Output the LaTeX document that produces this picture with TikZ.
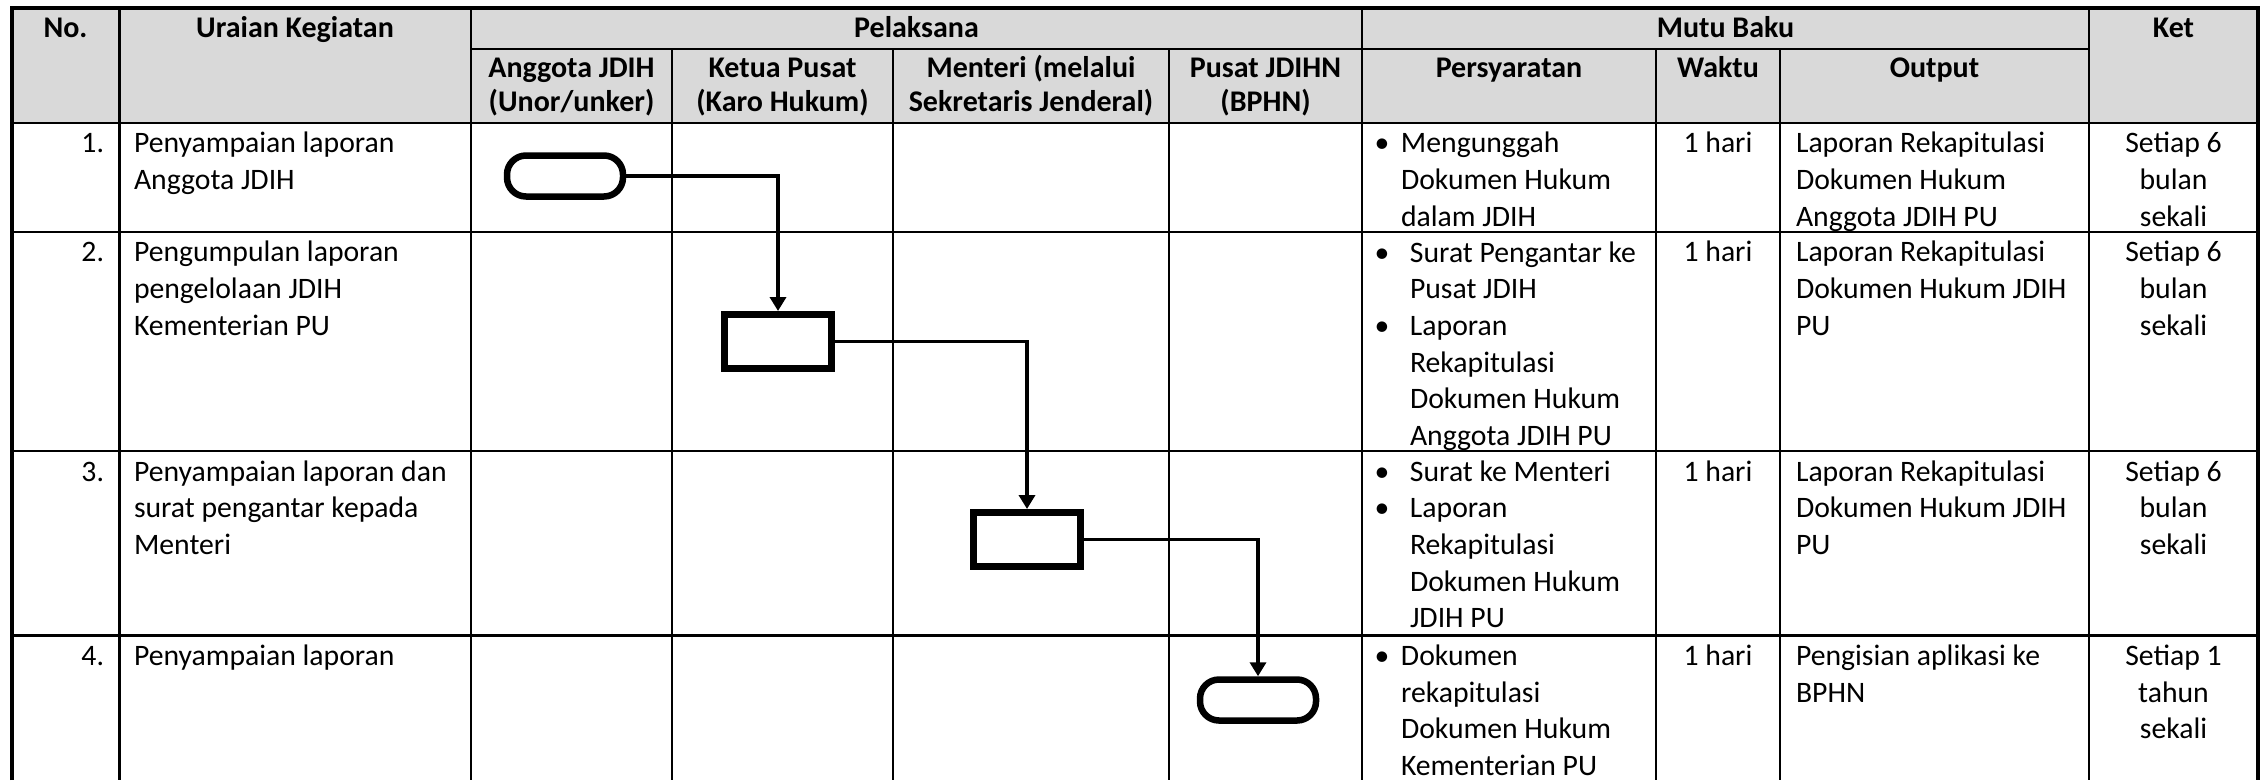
\documentclass[tikz,border=0pt]{standalone}
\usepackage{fontspec}
\setmainfont{Carlito}
\usetikzlibrary{arrows.meta}
\definecolor{hdrgray}{HTML}{D9D9D9}
\newcommand\bdyf{\fontsize{29.7}{36.7}\selectfont}
\newcommand\hdf{\fontsize{30}{34}\selectfont\bfseries}
\newcommand\bl[1]{\llap{\makebox[#1][c]{\textbullet}}}
\begin{document}
\begin{tikzpicture}[x=1pt,y=-1pt,
  outerline/.style={line width=3.2pt},
  innerline/.style={line width=2.4pt},
  hd/.style={inner sep=0pt,outer sep=0pt,font=\hdf,align=center,anchor=north},
  bt/.style={inner sep=0pt,outer sep=0pt,font=\bdyf,align=left,anchor=north west},
  btc/.style={inner sep=0pt,outer sep=0pt,font=\bdyf,align=center,anchor=north},
  btr/.style={inner sep=0pt,outer sep=0pt,font=\bdyf,align=right,anchor=north east},
  proc/.style={draw,line width=7pt,minimum width=107pt,minimum height=54pt,inner sep=0pt,fill=white},
  term/.style={draw,line width=6.5pt,rounded corners=19pt,minimum width=116pt,minimum height=41pt,inner sep=0pt,fill=white},
  conn/.style={line width=3.5pt,-{Triangle[length=14pt,width=16pt]}}
]
\useasboundingbox (0,0) rectangle (2266,780);
% header shading
\fill[hdrgray] (12,8) rectangle (2258,123);
% grid
\draw[innerline] (471,49) -- (2089,49);
\draw[innerline] (12,123) -- (2258,123);
\draw[innerline] (12,232) -- (2258,232);
\draw[innerline] (12,451) -- (2258,451);
\draw[innerline] (12,635.5) -- (2258,635.5);
\draw[innerline] (119.5,8) -- (119.5,780);
\draw[innerline] (471,8) -- (471,780);
\draw[innerline] (672,49) -- (672,780);
\draw[innerline] (893,49) -- (893,780);
\draw[innerline] (1169,49) -- (1169,780);
\draw[innerline] (1362,8) -- (1362,780);
\draw[innerline] (1656,49) -- (1656,780);
\draw[innerline] (1780,49) -- (1780,780);
\draw[innerline] (2089,8) -- (2089,780);
\draw[outerline] (12,780) -- (12,8) -- (2258,8) -- (2258,780);

% header texts
\node[hd] (hNo) at (65.5,13.4) {\strut No.};
\node[hd] (hUr) at (295,13.4) {\strut Uraian Kegiatan};
\node[hd] (hPel) at (916.5,13.4) {\strut Pelaksana};
\node[hd] (hMutu) at (1725.5,13.4) {\strut Mutu Baku};
\node[hd] (hKet) at (2173.5,13.4) {\strut Ket};
\node[hd] (hA) at (571.5,53.9) {\strut Anggota JDIH\\(Unor/unker)};
\node[hd] (hK) at (782.5,53.9) {\strut Ketua Pusat\\(Karo Hukum)};
\node[hd] (hM) at (1031,53.9) {\strut Menteri (melalui\\Sekretaris Jenderal)};
\node[hd] (hP) at (1265.5,53.9) {\strut Pusat JDIHN\\(BPHN)};
\node[hd] (hPer) at (1509,53.9) {\strut Persyaratan};
\node[hd] (hW) at (1718,53.9) {\strut Waktu};
\node[hd] (hO) at (1934.5,53.9) {\strut Output};

% row 1
\node[btr] (n1) at (104,127.3) {\strut 1.};
\node[bt] (u1) at (134,127.3) {\strut Penyampaian laporan\\Anggota JDIH};
\node[bt] (s1) at (1401,127.3) {\strut\bl{38pt}Mengunggah\\Dokumen Hukum\\dalam JDIH};
\node[btc] (w1) at (1718,127.3) {\strut 1 hari};
\node[bt] (o1) at (1796,127.3) {\strut Laporan Rekapitulasi\\Dokumen Hukum\\Anggota JDIH PU};
\node[btc] (k1) at (2173.5,127.3) {\strut Setiap 6\\bulan\\sekali};

% row 2
\node[btr] (n2) at (104,236.3) {\strut 2.};
\node[bt] (u2) at (134,236.3) {\strut Pengumpulan laporan\\pengelolaan JDIH\\Kementerian PU};
\node[bt] (s2) at (1410,236.3) {\strut\bl{56pt}Surat Pengantar ke\\Pusat JDIH\\\bl{56pt}Laporan\\Rekapitulasi\\Dokumen Hukum\\Anggota JDIH PU};
\node[btc] (w2) at (1718,236.3) {\strut 1 hari};
\node[bt] (o2) at (1796,236.3) {\strut Laporan Rekapitulasi\\Dokumen Hukum JDIH\\PU};
\node[btc] (k2) at (2173.5,236.3) {\strut Setiap 6\\bulan\\sekali};

% row 3
\node[btr] (n3) at (104,455.3) {\strut 3.};
\node[bt] (u3) at (134,455.3) {\strut Penyampaian laporan dan\\surat pengantar kepada\\Menteri};
\node[bt] (s3) at (1410,455.3) {\strut\bl{56pt}Surat ke Menteri\\\bl{56pt}Laporan\\Rekapitulasi\\Dokumen Hukum\\JDIH PU};
\node[btc] (w3) at (1718,455.3) {\strut 1 hari};
\node[bt] (o3) at (1796,455.3) {\strut Laporan Rekapitulasi\\Dokumen Hukum JDIH\\PU};
\node[btc] (k3) at (2173.5,455.3) {\strut Setiap 6\\bulan\\sekali};

% row 4
\node[btr] (n4) at (104,639.8) {\strut 4.};
\node[bt] (u4) at (134,639.8) {\strut Penyampaian laporan};
\node[bt] (s4) at (1401,639.8) {\strut\bl{38pt}Dokumen\\rekapitulasi\\Dokumen Hukum\\Kementerian PU};
\node[btc] (w4) at (1718,639.8) {\strut 1 hari};
\node[bt] (o4) at (1796,639.8) {\strut Pengisian aplikasi ke\\BPHN};
\node[btc] (k4) at (2173.5,639.8) {\strut Setiap 1\\tahun\\sekali};

% flow shapes
\node[term] (p1) at (565,176) {};
\node[proc] (r1) at (778,341.5) {};
\node[proc] (r2) at (1027,539.5) {};
\node[term] (p2) at (1258,700) {};

\draw[conn] (p1.east) -| (r1.north);
\draw[conn] (r1.east) -| (r2.north);
\draw[conn] (r2.east) -| (p2.north);
\end{tikzpicture}
\end{document}
